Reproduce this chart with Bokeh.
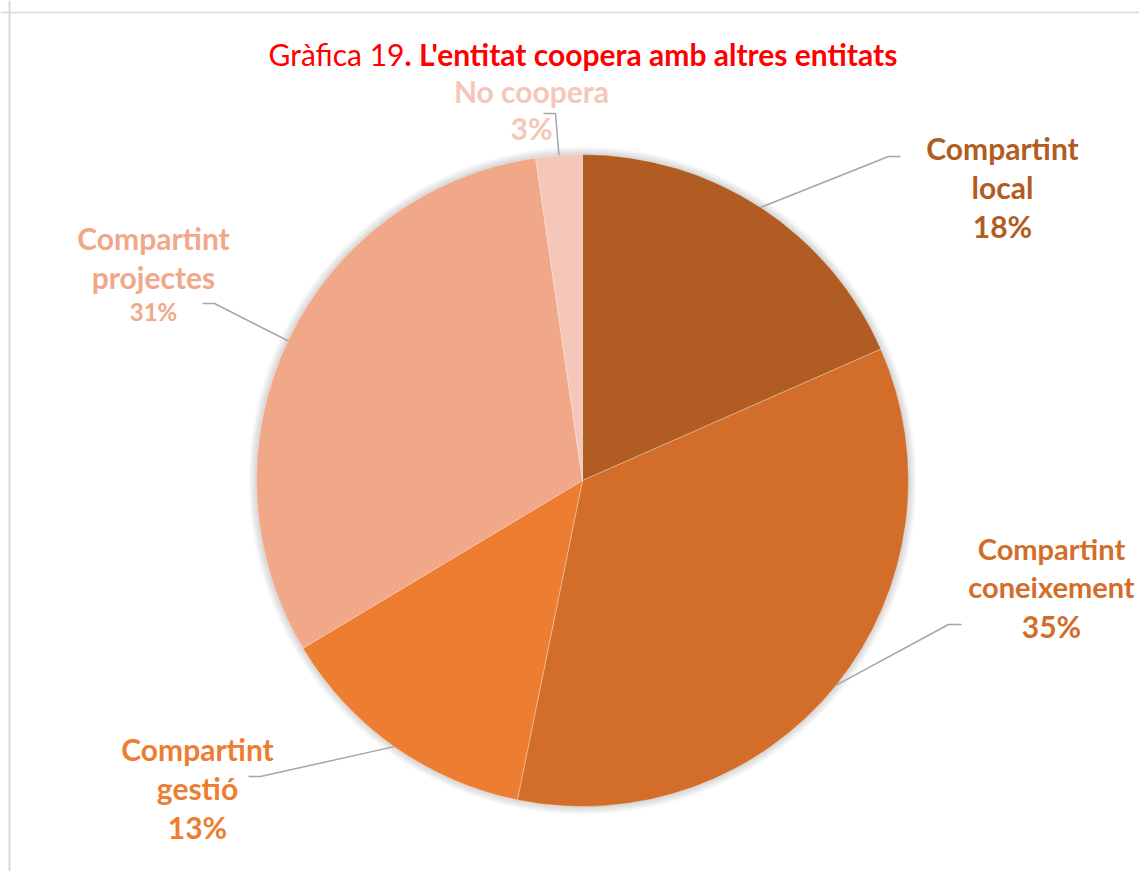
import numpy as np
from bokeh.plotting import figure
from bokeh.models import Range1d, Span, ColumnDataSource
from bokeh.core.properties import value
from bokeh.embed import file_html
from bokeh.resources import INLINE

# ---- data ----
categories = ["Compartint local", "Compartint coneixement", "Compartint gestió",
              "Compartint projectes", "No coopera"]
shares = [18.4, 34.8, 13.2, 31.3, 2.3]
pct_labels = ["18%", "35%", "13%", "31%", "3%"]
colors = ["#B05C22", "#D26D2A", "#ED7D31", "#F0A889", "#F4C7B8"]
title_regular = "Gràfica 19"
title_bold = ". L'entitat coopera amb altres entitats"

# ---- layout (page pixel positions) ----
W, H = 1139, 871
def X(px): return px
def Y(py): return H - py

CX, CY, R = X(582), Y(480), 326
FONT = "Lato"

label_x = [1002, 1051, 197, 153, 531]
name_y = [[147, 186], [548, 586], [748, 787], [237, 276], [90]]
pct_y = [225, 625, 826, 311, 127]
name_size = ["30px", "29px", "30px", "30px", "30px"]
pct_size = ["30px", "30px", "30px", "24px", "30px"]
elbow = [(888, 156), (948, 624), (260, 776), (214, 303), (555, 113)]
lend = [(900, 156), (961, 624), (248, 776), (202, 303), (543, 113)]

p = figure(width=W, height=H, x_range=Range1d(0, W), y_range=Range1d(0, H),
           output_backend="svg", toolbar_location=None, min_border=0,
           x_axis_location=None, y_axis_location=None)
p.grid.visible = False
p.outline_line_color = None
p.background_fill_color = "white"
p.border_fill_color = "white"

# chart border (left + top)
p.add_layout(Span(location=X(9), dimension="height", line_color="#D9D9D9", line_width=2))
p.add_layout(Span(location=Y(12), dimension="width", line_color="#D9D9D9", line_width=1.5))

# soft shadow
for k in range(1, 9):
    p.circle(x=[CX], y=[CY], radius=R + k, fill_color="black", fill_alpha=0.018,
             line_color=None)

frac = np.array(shares) / sum(shares)
cum = np.cumsum(frac)
start = np.pi / 2 - 2 * np.pi * (cum - frac)
end = np.pi / 2 - 2 * np.pi * cum
mid = (start + end) / 2

src = ColumnDataSource(dict(cat=categories, start=start, end=end, color=colors))
p.wedge(x=CX, y=CY, radius=R, start_angle="start", end_angle="end",
        direction="clock", fill_color="color", line_color="white",
        line_width=0.6, line_alpha=0.5, source=src)

# leader lines
for i in range(len(categories)):
    ex = CX + R * np.cos(mid[i])
    ey = CY + R * np.sin(mid[i])
    p.line(x=[ex, X(elbow[i][0]), X(lend[i][0])],
           y=[ey, Y(elbow[i][1]), Y(lend[i][1])],
           line_color="#A6A6A6", line_width=1.5)

# labels
for i, cat in enumerate(categories):
    lines = cat.split(" ", 1) if cat.startswith("Compartint") else [cat]
    p.text(x=[X(label_x[i])] * len(lines), y=[Y(v) for v in name_y[i]], text=lines,
           text_align="center", text_baseline="middle", text_font=value(FONT),
           text_font_style="bold", text_font_size=value(name_size[i]),
           text_color=colors[i])
    p.text(x=[X(label_x[i])], y=[Y(pct_y[i])], text=[pct_labels[i]],
           text_align="center", text_baseline="middle", text_font=value(FONT),
           text_font_style="bold", text_font_size=value(pct_size[i]),
           text_color=colors[i])

# title (regular + bold)
SPLIT = 404
p.text(x=[X(SPLIT)], y=[Y(53)], text=[title_regular], text_align="right",
       text_baseline="middle", text_font=value(FONT), text_font_style="normal",
       text_font_size=value("30px"), text_color="#FF0000")
p.text(x=[X(SPLIT)], y=[Y(53)], text=[title_bold], text_align="left",
       text_baseline="middle", text_font=value(FONT), text_font_style="bold",
       text_font_size=value("30px"), text_color="#FF0000")

open("out.html", "w").write(file_html(p, INLINE))
